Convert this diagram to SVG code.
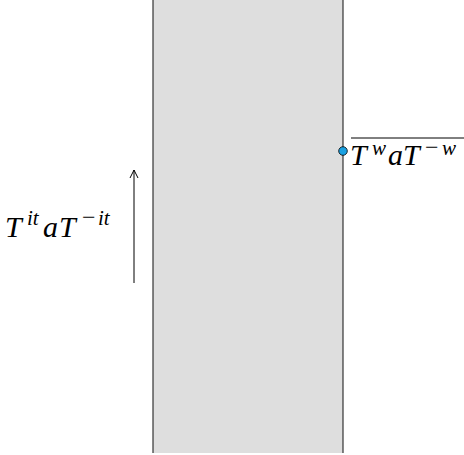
<svg xmlns="http://www.w3.org/2000/svg" width="464" height="455" viewBox="0 0 464 455">
<style>
.m{font-family:"Liberation Serif","DejaVu Serif",serif;font-style:italic;fill:#000}
.b{font-size:30px}
.s{font-size:21px}
.n{font-style:normal}
.edge{stroke:#222;stroke-width:1.1;fill:none}
</style>
<defs>
<marker id="ah" markerWidth="12" markerHeight="10" refX="10" refY="5" orient="auto" markerUnits="userSpaceOnUse">
<path d="M2,1 Q6,3 10,5 Q6,7 2,9" fill="none" stroke="#000" stroke-width="1"/>
</marker>
</defs>
<g id="strip">
<rect x="153" y="0" width="190" height="453" fill="#dedede"/>
<line class="edge" x1="153" y1="0" x2="153" y2="453"/>
<line class="edge" x1="343" y1="0" x2="343" y2="453"/>
</g>
<g id="connectors">
<line x1="134" y1="283" x2="134" y2="170" stroke="#000" stroke-width="1" marker-end="url(#ah)"/>
</g>
<g id="label-left">
<text class="m b" x="5" y="237">T</text>
<text class="m s" x="27" y="225">it</text>
<text class="m b" x="43" y="237">a</text>
<text class="m b" x="59" y="237">T</text>
<text class="m s n" x="82" y="225" style="font-size:24px">−</text>
<text class="m s" x="98" y="225">it</text>
</g>
<g id="point">
<circle cx="343" cy="151" r="4.3" fill="#1ba1e2" stroke="#000" stroke-width="0.8"/>
</g>
<g id="label-right">
<line x1="351" y1="138" x2="464" y2="138" stroke="#000" stroke-width="1"/>
<text class="m b" x="350" y="165">T</text>
<text class="m s" x="372" y="155">w</text>
<text class="m b" x="388" y="165">a</text>
<text class="m b" x="403" y="165">T</text>
<text class="m s n" x="425" y="155" style="font-size:24px">−</text>
<text class="m s" x="442" y="155">w</text>
</g>
</svg>
